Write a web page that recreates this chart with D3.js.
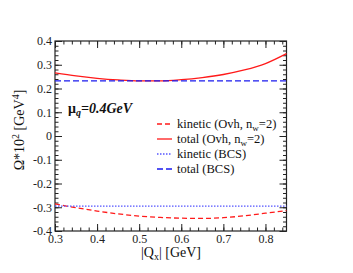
<!DOCTYPE html>
<head>
  <meta charset="utf-8">
  <title>Omega vs Qx</title>
</head>
<style>
html, body {
  width: 100%;
  height: 100%;
  padding: 0;
  margin: 0;
  background: #ffffff;
}
.axis text {
  fill: #222;
}
.axis path, .axis line {
  stroke: #222;
}
.legend text {
  font-family: "Liberation Serif", serif;
  font-size: 12.5px;
  fill: #111;
}
</style>
<svg class="chart" width="353" height="273"></svg>

<script src="https://d3js.org/d3.v7.min.js"></script>
<script>
// x values (|Qx| in GeV)
var qx = [0.3, 0.35, 0.4, 0.45, 0.5, 0.55, 0.6, 0.65, 0.7, 0.75, 0.8, 0.85];
// total energy, overhauser ansatz (n_w=2)
var totalOvh = [0.266, 0.253, 0.243, 0.236, 0.232, 0.232, 0.237, 0.246, 0.259, 0.278, 0.305, 0.347];
// kinetic energy, overhauser ansatz (n_w=2)
var kineticOvh = [-0.286, -0.302, -0.316, -0.328, -0.337, -0.343, -0.346, -0.347, -0.344, -0.336, -0.325, -0.314];
// BCS reference values (flat)
var kineticBCS = -0.295;
var totalBCS = 0.232;

var xTicks = [0.3, 0.4, 0.5, 0.6, 0.7, 0.8];
var yTicks = [-0.4, -0.3, -0.2, -0.1, 0, 0.1, 0.2, 0.3, 0.4];
var legendLabels = ["kinetic (Ovh, n", "total (Ovh, n", "kinetic (BCS)", "total (BCS)"];

var svg = d3.select("svg");
// note: "top" is reserved on window, so use plot* names
var plotLeft = 55, plotRight = 286.5, plotTop = 41, plotBottom = 231;

var x = d3.scaleLinear().domain([0.3, 0.85]).range([plotLeft, plotRight]);
var y = d3.scaleLinear().domain([-0.4, 0.4]).range([plotBottom, plotTop]);

// minor ticks every 0.02
var xMinor = d3.range(0.3, 0.851, 0.02);
var yMinor = d3.range(-0.4, 0.401, 0.02);

// plain hyphen minus, like the original plot
function fmt(d) { return Math.abs(d) < 1e-9 ? "0" : d.toFixed(1); }

// drop the axis line (frame is drawn separately) and use a serif face
function tidy(s) {
  s.select(".domain").remove();
  s.attr("font-family", "Liberation Serif, serif").attr("font-size", 12);
}

var g = svg.append("g");

// frame
g.append("rect")
  .attr("x", plotLeft).attr("y", plotTop)
  .attr("width", plotRight - plotLeft).attr("height", plotBottom - plotTop)
  .attr("fill", "none").attr("stroke", "#222").attr("stroke-width", 1.2);

// bottom axis
g.append("g").attr("class", "axis")
  .attr("transform", "translate(0," + plotBottom + ")")
  .call(d3.axisBottom(x).tickValues(xTicks).tickSize(-7).tickPadding(3).tickFormat(fmt))
  .call(tidy);
g.append("g").attr("class", "axis")
  .attr("transform", "translate(0," + plotBottom + ")")
  .call(d3.axisBottom(x).tickValues(xMinor).tickSize(-3.5).tickFormat(""))
  .call(tidy);
// top axis
g.append("g").attr("class", "axis")
  .attr("transform", "translate(0," + plotTop + ")")
  .call(d3.axisTop(x).tickValues(xTicks).tickSize(-7).tickFormat(""))
  .call(tidy);
g.append("g").attr("class", "axis")
  .attr("transform", "translate(0," + plotTop + ")")
  .call(d3.axisTop(x).tickValues(xMinor).tickSize(-3.5).tickFormat(""))
  .call(tidy);

// left axis
g.append("g").attr("class", "axis")
  .attr("transform", "translate(" + plotLeft + ",0)")
  .call(d3.axisLeft(y).tickValues(yTicks).tickSize(-7).tickPadding(3).tickFormat(fmt))
  .call(tidy);
g.append("g").attr("class", "axis")
  .attr("transform", "translate(" + plotLeft + ",0)")
  .call(d3.axisLeft(y).tickValues(yMinor).tickSize(-3.5).tickFormat(""))
  .call(tidy);
// right axis
g.append("g").attr("class", "axis")
  .attr("transform", "translate(" + plotRight + ",0)")
  .call(d3.axisRight(y).tickValues(yTicks).tickSize(-7).tickFormat(""))
  .call(tidy);
g.append("g").attr("class", "axis")
  .attr("transform", "translate(" + plotRight + ",0)")
  .call(d3.axisRight(y).tickValues(yMinor).tickSize(-3.5).tickFormat(""))
  .call(tidy);

var line = d3.line()
  .x(function(d) { return x(d[0]); })
  .y(function(d) { return y(d[1]); })
  .curve(d3.curveMonotoneX);

var styles = [
  { color: "#ff1a1a", dash: "5,3", width: 1.3 },
  { color: "#ff1a1a", dash: null, width: 1.3 },
  { color: "#5555ff", dash: "1.5,1.5", width: 1.3 },
  { color: "#1a1aee", dash: "6,3", width: 1.4 }
];

var series = [
  d3.zip(qx, kineticOvh),
  d3.zip(qx, totalOvh),
  qx.map(function(v) { return [v, kineticBCS]; }),
  qx.map(function(v) { return [v, totalBCS]; })
];

var plot = svg.append("g");
plot.selectAll("path")
  .data(series)
  .enter().append("path")
    .attr("d", line)
    .attr("fill", "none")
    .attr("stroke", function(d, i) { return styles[i].color; })
    .attr("stroke-width", function(d, i) { return styles[i].width; })
    .attr("stroke-dasharray", function(d, i) { return styles[i].dash; });

// legend
var legend = svg.append("g").attr("class", "legend");
legendLabels.forEach(function(lbl, i) {
  var yy = 128 + i * 15;
  legend.append("line")
    .attr("x1", 157).attr("x2", 172)
    .attr("y1", yy - 4).attr("y2", yy - 4)
    .attr("stroke", styles[i].color)
    .attr("stroke-width", styles[i].width)
    .attr("stroke-dasharray", styles[i].dash);
  var t = legend.append("text").attr("x", 177).attr("y", yy).text(lbl);
  if (i < 2) {
    t.append("tspan").attr("dy", 3).attr("font-size", "9px").text("w");
    t.append("tspan").attr("dy", -3).text("=2)");
  }
});

// annotation
var ann = svg.append("text")
  .attr("x", 68).attr("y", 113)
  .attr("font-family", "Liberation Serif, serif")
  .attr("font-size", "14px")
  .attr("font-weight", "bold")
  .attr("fill", "#111");
ann.append("tspan").text("\u03bc");
ann.append("tspan").attr("dy", 3).attr("font-size", "10px").attr("font-style", "italic").text("q");
ann.append("tspan").attr("dy", -3).attr("font-style", "italic").text("=0.4GeV");

// axis titles
var xt = svg.append("text")
  .attr("x", 171).attr("y", 257)
  .attr("text-anchor", "middle")
  .attr("font-family", "Liberation Serif, serif")
  .attr("font-size", "14px")
  .attr("fill", "#111");
xt.append("tspan").text("|Q");
xt.append("tspan").attr("dy", 3).attr("font-size", "10px").text("x");
xt.append("tspan").attr("dy", -3).text("| [GeV]");

var yt = svg.append("text")
  .attr("transform", "translate(24,130) rotate(-90)")
  .attr("text-anchor", "middle")
  .attr("font-family", "Liberation Serif, serif")
  .attr("font-size", "14px")
  .attr("fill", "#111");
yt.append("tspan").text("\u03a9*10");
yt.append("tspan").attr("dy", -5).attr("font-size", "10px").text("2");
yt.append("tspan").attr("dy", 5).text(" [GeV");
yt.append("tspan").attr("dy", -5).attr("font-size", "10px").text("4");
yt.append("tspan").attr("dy", 5).text("]");
</script>
